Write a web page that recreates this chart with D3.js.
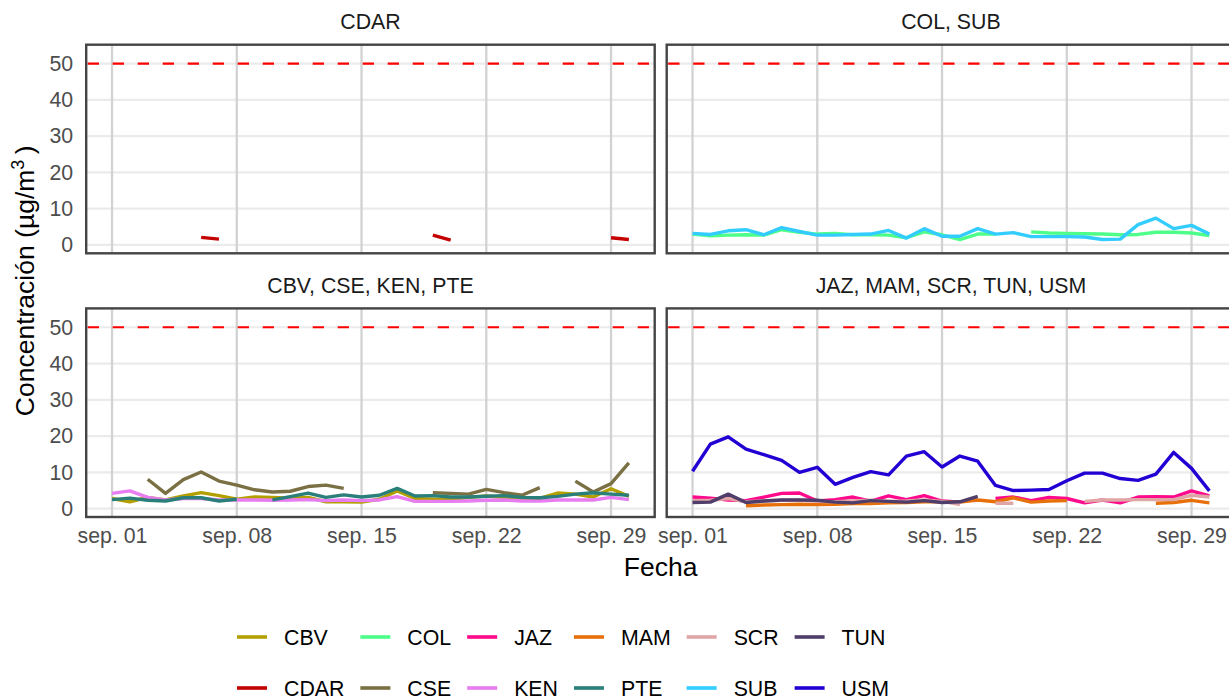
<!DOCTYPE html>
<html>
<head>
<meta charset="utf-8">
<script src="https://cdn.jsdelivr.net/npm/d3@7"></script>
<style>
  body { margin: 0; background: #fff; }
  svg { display: block; font-family: "Liberation Sans", Arial, sans-serif; }
</style>
</head>
<body>
<div id="chart"></div>
<script>
// fechas (septiembre)
const fechas = [
  "2023-09-01","2023-09-02","2023-09-03","2023-09-04","2023-09-05","2023-09-06",
  "2023-09-07","2023-09-08","2023-09-09","2023-09-10","2023-09-11","2023-09-12",
  "2023-09-13","2023-09-14","2023-09-15","2023-09-16","2023-09-17","2023-09-18",
  "2023-09-19","2023-09-20","2023-09-21","2023-09-22","2023-09-23","2023-09-24",
  "2023-09-25","2023-09-26","2023-09-27","2023-09-28","2023-09-29","2023-09-30"
];
const tickFechas = ["2023-09-01","2023-09-08","2023-09-15","2023-09-22","2023-09-29"];
const tickLabels = ["sep. 01","sep. 08","sep. 15","sep. 22","sep. 29"];
const yTicks = [0, 10, 20, 30, 40, 50];
const limite = 50;

// concentraciones por estación (null = sin dato)
const CBV  = [2.8,1.9,3.1,2.4,3.5,4.4,3.6,2.6,3.2,3.1,2.9,3.1,1.9,1.9,1.8,2.6,4.9,2.8,2.6,2.6,3.1,3.5,3.1,2.6,2.8,4.3,4.0,3.2,5.5,3.4];
const CDAR = [null,null,null,null,null,2.1,1.6,null,null,null,null,null,null,null,null,null,null,null,2.7,1.3,null,null,null,null,null,null,null,null,2.0,1.5];
const COL  = [3.0,2.5,2.7,2.8,2.7,4.2,3.5,3.0,3.2,2.8,2.8,2.7,2.0,3.6,2.8,1.5,3.0,3.0,null,3.6,3.3,3.2,3.1,3.0,2.8,2.9,3.5,3.5,3.3,2.6];
const CSE  = [null,null,8.1,4.2,8.0,10.1,7.6,6.5,5.2,4.6,4.8,6.1,6.5,5.6,null,null,null,null,4.4,4.2,4.0,5.3,4.4,3.7,5.8,null,7.6,4.6,6.9,12.6];
const JAZ  = [3.2,2.9,2.4,2.2,3.2,4.2,4.3,2.1,2.5,3.2,2.1,3.5,2.5,3.6,2.1,1.8,null,2.8,3.2,2.2,3.1,2.8,1.6,2.4,1.6,3.2,3.3,3.2,4.9,3.5];
const KEN  = [4.2,4.9,3.1,2.4,2.8,2.8,2.4,2.4,2.4,2.3,2.4,2.5,2.2,2.4,2.2,2.4,3.3,2.0,2.0,2.0,2.1,2.3,2.4,2.1,2.1,2.4,2.4,2.4,3.1,2.5];
const MAM  = [null,null,null,0.8,1.0,1.1,1.2,1.1,1.2,1.4,1.4,1.6,1.7,1.9,1.9,1.8,2.4,1.9,3.0,1.8,2.1,2.2,null,null,null,null,1.5,1.7,2.3,1.6];
const PTE  = [2.5,2.9,2.3,2.1,3.0,3.0,2.1,2.6,null,2.4,3.3,4.3,3.1,3.8,3.2,3.7,5.6,3.5,3.6,3.2,3.2,3.4,3.6,3.1,3.0,3.4,4.0,4.4,4.0,3.7];
const SCR  = [2.2,2.3,2.8,1.9,2.1,2.3,2.4,2.0,1.9,2.1,2.3,2.0,2.1,2.4,2.0,1.1,null,1.5,1.5,null,null,null,2.0,2.4,2.4,2.5,2.5,2.5,3.7,3.2];
const SUB  = [3.2,2.9,3.9,4.2,2.8,4.8,3.7,2.7,2.7,2.9,3.0,4.0,1.9,4.5,2.4,2.4,4.5,3.0,3.4,2.3,2.3,2.3,2.2,1.5,1.6,5.6,7.4,4.5,5.4,3.0];
const TUN  = [1.7,1.8,4.0,1.7,2.1,2.4,2.4,2.3,1.8,1.6,2.2,2.0,1.8,2.2,1.7,1.9,3.4,null,null,null,null,null,null,null,null,null,null,null,null,null];
const USM  = [10.3,17.8,19.8,16.4,14.9,13.3,10.0,11.4,6.7,8.6,10.2,9.3,14.5,15.7,11.5,14.5,13.1,6.4,5.0,5.1,5.3,7.7,9.8,9.8,8.3,7.8,9.5,15.5,11.1,4.9];

const estaciones = ["CBV","CDAR","COL","CSE","JAZ","KEN","MAM","PTE","SCR","SUB","TUN","USM"];
const valores = {CBV, CDAR, COL, CSE, JAZ, KEN, MAM, PTE, SCR, SUB, TUN, USM};
const colores = ["#b3a000","#c40000","#4dff88","#7a7043","#ff0a8c","#e87df2",
                 "#e8700a","#2a7f7a","#e0a6a6","#33ccff","#4f3d6b","#2200d4"];

const paneles = [
  {titulo: "CDAR", grupo: ["CDAR"]},
  {titulo: "COL, SUB", grupo: ["COL","SUB"]},
  {titulo: "CBV, CSE, KEN, PTE", grupo: ["CBV","CSE","KEN","PTE"]},
  {titulo: "JAZ, MAM, SCR, TUN, USM", grupo: ["JAZ","MAM","SCR","TUN","USM"]}
];

const W = 1229, H = 699;
const panelW = 568.5, panelH = 208.6;
const panelX = [86.2, 666.7];
const panelY = [44.7, 308.4];
const fontSmall = 21.3, fontTitle = 26.5;

const parse = d3.timeParse("%Y-%m-%d");
const dates = fechas.map(parse);
const colorScale = d3.scaleOrdinal().domain(estaciones).range(colores);

const svg = d3.select("#chart").append("svg")
  .attr("width", W).attr("height", H);

// escala x con 5% de expansión
const x0 = dates[0], x1 = dates[dates.length - 1];
const span = x1 - x0;
const xScale = d3.scaleTime()
  .domain([new Date(+x0 - 0.05 * span), new Date(+x1 + 0.05 * span)])
  .range([0, panelW]);
const yScale = d3.scaleLinear().domain([-2.3, 55.2]).range([panelH, 0]);

const line = d3.line()
  .defined(d => d.v != null)
  .x(d => xScale(d.date))
  .y(d => yScale(d.v));

paneles.forEach((p, i) => {
  const col = i % 2, row = Math.floor(i / 2);
  const g = svg.append("g")
    .attr("transform", `translate(${panelX[col]},${panelY[row]})`);

  // rejilla
  g.selectAll(".hgrid").data(yTicks).enter().append("line")
    .attr("x1", 0).attr("x2", panelW)
    .attr("y1", d => yScale(d)).attr("y2", d => yScale(d))
    .attr("stroke", "#ebebeb").attr("stroke-width", 2.2);
  g.selectAll(".vgrid").data(tickFechas.map(parse)).enter().append("line")
    .attr("x1", d => xScale(d)).attr("x2", d => xScale(d))
    .attr("y1", 0).attr("y2", panelH)
    .attr("stroke", "#d2d2d2").attr("stroke-width", 2.3);

  // línea límite
  g.append("line")
    .attr("x1", 0).attr("x2", panelW)
    .attr("y1", yScale(limite)).attr("y2", yScale(limite))
    .attr("stroke", "#ff0000").attr("stroke-width", 2.2)
    .attr("stroke-dasharray", "11.3,13.7")
    .attr("stroke-dashoffset", -1.5);

  // series
  p.grupo.forEach(est => {
    const serie = valores[est].map((v, k) => ({date: dates[k], v: v}));
    g.append("path")
      .datum(serie)
      .attr("d", line)
      .attr("fill", "none")
      .attr("stroke", colorScale(est))
      .attr("stroke-width", 3.4)
      .attr("stroke-linejoin", "round");
  });

  // borde
  g.append("rect")
    .attr("x", 0).attr("y", 0)
    .attr("width", panelW).attr("height", panelH)
    .attr("fill", "none").attr("stroke", "#444444").attr("stroke-width", 2.4);

  // título de faceta
  g.append("text")
    .attr("x", panelW / 2).attr("y", -15.5)
    .attr("text-anchor", "middle")
    .attr("fill", "#1a1a1a")
    .style("font-size", fontSmall + "px")
    .text(p.titulo);

  // eje y (solo columna izquierda)
  if (col === 0) {
    const yAxis = d3.axisLeft(yScale).tickValues(yTicks).tickSize(0).tickPadding(13);
    const ya = g.append("g").call(yAxis);
    ya.select(".domain").remove();
    ya.selectAll("text")
      .attr("fill", "#4d4d4d")
      .style("font-size", fontSmall + "px")
      .style("font-family", "'Liberation Sans', Arial, sans-serif");
  }

  // eje x (solo fila inferior)
  if (row === 1) {
    const xAxis = d3.axisBottom(xScale)
      .tickValues(tickFechas.map(parse))
      .tickFormat((d, k) => tickLabels[k])
      .tickSize(0).tickPadding(11);
    const xa = g.append("g")
      .attr("transform", `translate(0,${panelH})`)
      .call(xAxis);
    xa.select(".domain").remove();
    xa.selectAll("text")
      .attr("fill", "#4d4d4d")
      .style("font-size", fontSmall + "px")
      .style("font-family", "'Liberation Sans', Arial, sans-serif");
  }
});

// títulos de ejes
svg.append("text")
  .attr("x", (panelX[0] + panelX[1] + panelW) / 2)
  .attr("y", 576)
  .attr("text-anchor", "middle")
  .style("font-size", fontTitle + "px")
  .text("Fecha");

const yt = svg.append("text")
  .attr("transform", `translate(34,${(panelY[0] + panelY[1] + panelH) / 2}) rotate(-90)`)
  .attr("text-anchor", "middle")
  .style("font-size", fontTitle + "px");
yt.append("tspan").text("Concentración (µg/m");
yt.append("tspan").attr("dy", -10).style("font-size", "18px").text("3");
yt.append("tspan").attr("dy", 10).text("\u2009)");

// leyenda (2 filas, llenado por columnas)
const legend = svg.append("g").attr("transform", "translate(237,637)");
let cx = 0;
for (let c = 0; c < estaciones.length / 2; c++) {
  const pair = [estaciones[2 * c], estaciones[2 * c + 1]];
  let maxW = 0;
  pair.forEach((est, r) => {
    const item = legend.append("g").attr("transform", `translate(${cx},${r * 51})`);
    item.append("line")
      .attr("x1", 0).attr("x2", 30).attr("y1", 0).attr("y2", 0)
      .attr("stroke", colorScale(est)).attr("stroke-width", 3.6);
    const t = item.append("text")
      .attr("x", 47).attr("y", 7.5)
      .style("font-size", fontSmall + "px")
      .text(est);
    maxW = Math.max(maxW, t.node().getComputedTextLength());
  });
  cx += 47 + maxW + 16;
}
</script>
</body>
</html>
